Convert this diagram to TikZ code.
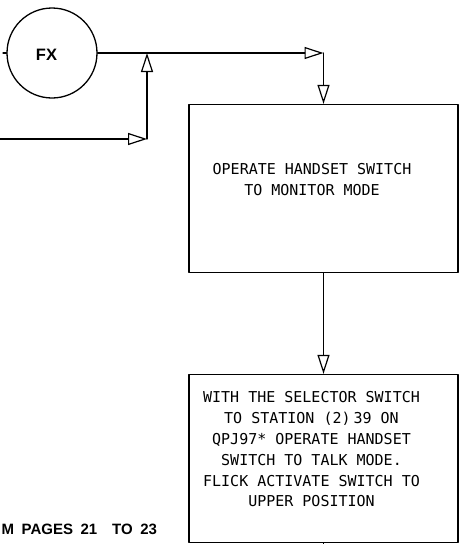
\documentclass[tikz,border=0pt]{standalone}
\usepackage{fontspec}
\usetikzlibrary{arrows.meta}
\newfontfamily\leroy{DejaVu Sans Mono}
\newfontfamily\grassetto[WordSpace=1.8]{Liberation Sans Bold}
\begin{document}
\begin{tikzpicture}[x=1pt,y=-1pt,line join=round,line cap=round,line width=1.3pt,
  flusso/.style={-{Triangle[open,length=19pt,width=12pt,line width=1.2pt]}},
  scatola/.style={draw,minimum width=269pt,minimum height=168pt,inner sep=0pt},
  testo/.style={font=\leroy\fontsize{15}{20.8}\selectfont,align=center,inner sep=0pt}]

  \useasboundingbox (0,0) rectangle (459,544);

  % ---- il blocco FX --------------------------------------------------------
  \node[draw,circle,minimum size=90pt,inner sep=0pt] (fx) at (52,53) {};
  \node[font=\grassetto\fontsize{16.5}{16.5}\selectfont,inner sep=0pt] (fxnome) at (46.5,54.5) {FX};

  % ---- le due caselle con le istruzioni ------------------------------------
  \node[scatola] (monitor) at (323.5,188.5) {};
  \node[testo] (monitortesto) at (312,179.5) {OPERATE HANDSET SWITCH\\TO MONITOR MODE};
  \node[scatola] (parla) at (323.5,458.5) {};
  \node[testo] (parlatesto) at (311.5,449.5) {WITH THE SELECTOR SWITCH\\TO STATION (2)\kern3pt 39 ON\\
    QPJ97* OPERATE HANDSET\\SWITCH TO TALK MODE.\\FLICK ACTIVATE SWITCH TO\\UPPER POSITION};

  % ---- punti di passaggio delle linee --------------------------------------
  \coordinate (coda) at (3,53);
  \coordinate (ingresso) at (0,139);
  \coordinate (giunto) at (147,139);
  \coordinate (angolo) at (monitor.north |- fx.east);
  \coordinate (uscita) at (parla.south |- 0,544);

  % ---- le linee di flusso --------------------------------------------------
  \draw (coda) -- (fx.west);
  \draw[flusso] (ingresso) -- (giunto);
  \draw[flusso] (giunto) -- (giunto |- fx.east);
  \draw[flusso] (fx.east) -- (angolo);
  \draw[flusso] (angolo) -- (monitor.north);
  \draw[flusso] (monitor.south) -- (parla.north);
  \draw (parla.south) -- (uscita);

  % ---- rimando in basso ----------------------------------------------------
  \node[font=\grassetto\fontsize{15}{15}\selectfont,anchor=base west,inner sep=0pt]
    (pagine) at (1,534) {M PAGES 21\ \ TO 23};

\end{tikzpicture}
\end{document}
